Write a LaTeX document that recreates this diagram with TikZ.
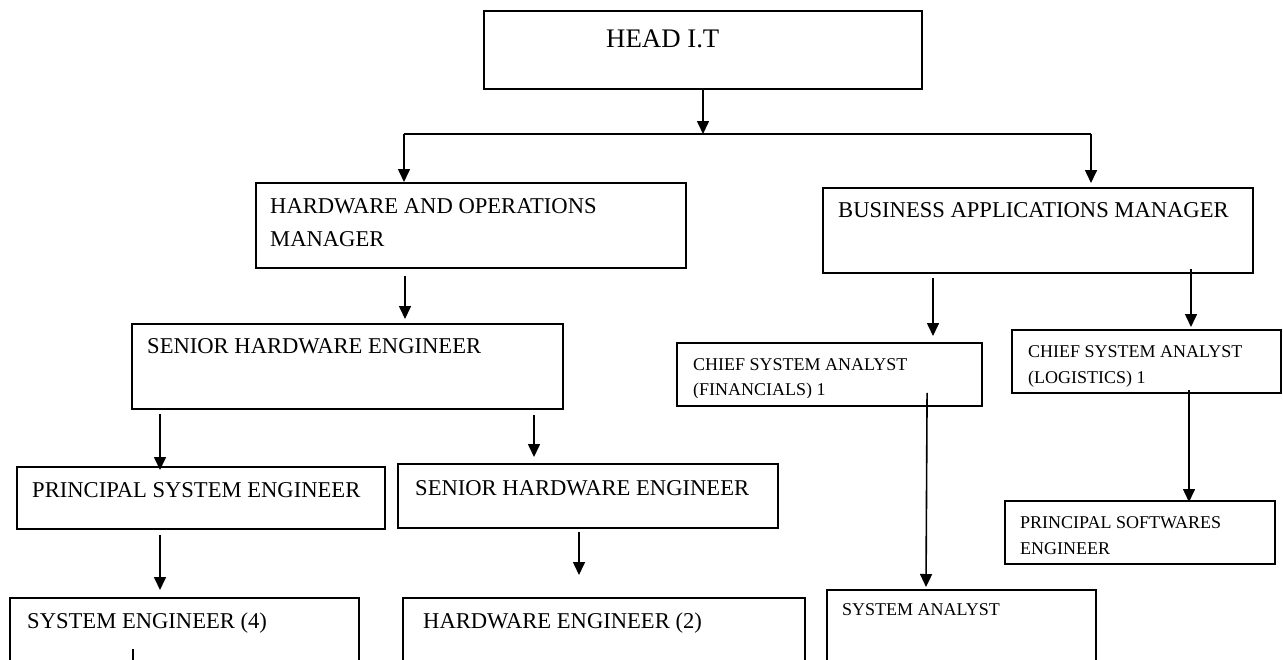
\documentclass[tikz,border=0pt]{standalone}
\usepackage{fontspec}
\setmainfont{Liberation Serif}
\usetikzlibrary{arrows.meta,calc}
\begin{document}
\begin{tikzpicture}[x=1pt,y=-1pt,
  box/.style={draw, line width=1.8pt, rectangle, inner sep=0pt, anchor=north west},
  huge/.style={font=\fontsize{26.8}{30}\selectfont, anchor=base west, inner sep=0pt},
  big/.style={font=\fontsize{22.6}{26}\selectfont, anchor=base west, inner sep=0pt},
  small/.style={font=\fontsize{18}{21}\selectfont, anchor=base west, inner sep=0pt},
  arr/.style={line width=1.6pt, -{Triangle[length=13pt,width=12pt]}},
  ln/.style={line width=1.8pt}]
\useasboundingbox (0,0) rectangle (1283,659);
\clip (0,0) rectangle (1283,659);

% boxes
\node[box, minimum width=438pt, minimum height=78pt] (head)   at (483,10)  {};
\node[box, minimum width=430pt, minimum height=85pt] (hwops)  at (255,182) {};
\node[box, minimum width=430pt, minimum height=85pt] (bam)    at (822,187) {};
\node[box, minimum width=431pt, minimum height=85pt] (she)    at (131,323) {};
\node[box, minimum width=305pt, minimum height=63pt] (csafin) at (676,342) {};
\node[box, minimum width=269pt, minimum height=63pt] (csalog) at (1011,329) {};
\node[box, minimum width=368pt, minimum height=62pt] (pse)    at (16,466)  {};
\node[box, minimum width=380pt, minimum height=64pt] (she2)   at (397,463) {};
\node[box, minimum width=270pt, minimum height=63pt] (psw)    at (1004,500) {};
\node[box, minimum width=349pt, minimum height=95pt] (seng)   at (9,597)   {};
\node[box, minimum width=402pt, minimum height=95pt] (hweng)  at (402,597) {};
\node[box, minimum width=269pt, minimum height=100pt] (sa)    at (826,589) {};

% texts
\node[huge]  (headt)   at (606,47)  {HEAD I.T};
\node[big]   (hwopst1) at (270,213) {HARDWARE AND OPERATIONS};
\node[big]   (hwopst2) at (270,246) {MANAGER};
\node[big]   (bamt)    at (838,217) {BUSINESS APPLICATIONS MANAGER};
\node[big]   (shet)    at (147,353) {SENIOR HARDWARE ENGINEER};
\node[small] (csafint1) at (693,370) {CHIEF SYSTEM ANALYST};
\begin{scope}
\clip (676,375) rectangle (981,397);
\node[small] (csafint2) at (693,395) {(FINANCIALS) 1};
\end{scope}
\node[small] (csalogt1) at (1028,357) {CHIEF SYSTEM ANALYST};
\node[small] (csalogt2) at (1028,383) {(LOGISTICS) 1};
\node[big]   (pset)    at (32,497)  {PRINCIPAL SYSTEM ENGINEER};
\node[big]   (she2t)   at (415,495) {SENIOR HARDWARE ENGINEER};
\node[small] (pswt1)   at (1020,528) {PRINCIPAL SOFTWARES};
\node[small] (pswt2)   at (1020,554) {ENGINEER};
\node[big]   (sengt)   at (27,628)  {SYSTEM ENGINEER (4)};
\node[big]   (hwengt)  at (423,628) {HARDWARE ENGINEER (2)};
\node[small] (sat)     at (842,615) {SYSTEM ANALYST};

% connectors
\coordinate (j)  at (703,134);
\coordinate (jl) at (404,134);
\coordinate (jr) at (1091,134);
\draw[arr] (head.south -| j) -- (j);
\draw[ln] (jl) -- (jr);
\draw[arr] (jl) -- (jl |- hwops.north);
\draw[arr, shorten >=4pt] (jr) -- (jr |- bam.north);
\draw[arr, shorten <=7pt, shorten >=4pt] (hwops.south -| 405,0) -- (she.north -| 405,0);
\draw[arr, shorten <=4pt, shorten >=6pt] (bam.south -| 933,0) -- (csafin.north -| 933,0);
\draw[arr, shorten <=-5pt, shorten >=2pt] (bam.south -| 1191,0) -- (csalog.north -| 1191,0);
\draw[arr, shorten <=4pt, shorten >=-4pt] (she.south -| 160,0) -- (pse.north -| 160,0);
\draw[arr, shorten <=5pt, shorten >=6pt] (she.south -| 534,0) -- (she2.north -| 534,0);
\draw[arr, shorten <=5pt, shorten >=7pt] (pse.south -| 160,0) -- (seng.north -| 160,0);
\draw[arr, shorten <=3pt, shorten >=22pt] (she2.south -| 579,0) -- (hweng.north -| 579,0);
\draw[arr, shorten <=-14pt, shorten >=2pt] (csafin.south -| 927,0) -- (sa.north -| 926,0);
\draw[arr, shorten <=-4pt, shorten >=-2pt] (csalog.south -| 1189,0) -- (psw.north -| 1189,0);
\draw[ln] ($(seng.north -| 133,0)+(0,52)$) -- ++(0,30);
\end{tikzpicture}
\end{document}
